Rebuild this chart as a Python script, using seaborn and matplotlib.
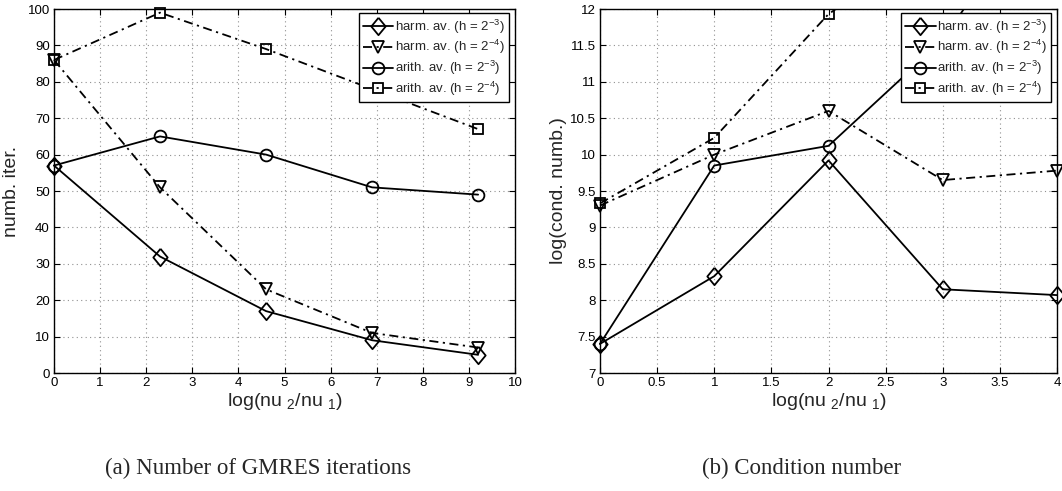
import numpy as np
import pandas as pd
import seaborn as sns
import matplotlib
matplotlib.use("Agg")
import matplotlib.pyplot as plt
from matplotlib.ticker import MultipleLocator, FuncFormatter
from matplotlib.transforms import Bbox, TransformedBbox

# Data
labels = ["harm. av. (h = 2$^{-3}$)", "harm. av. (h = 2$^{-4}$)",
          "arith. av. (h = 2$^{-3}$)", "arith. av. (h = 2$^{-4}$)"]

# (a) number of GMRES iterations
x_iter = [0, 2.3, 4.6, 6.9, 9.2]
iter_harm_h3 = [57, 32, 17, 9, 5]
iter_harm_h4 = [86, 51, 23, 11, 7]
iter_arith_h3 = [57, 65, 60, 51, 49]
iter_arith_h4 = [86, 99, 89, 78, 67]

# (b) condition number
x_cond = [0, 1, 2, 3, 4]
cond_harm_h3 = [7.4, 8.33, 9.92, 8.15, 8.07]
cond_harm_h4 = [9.3, 10.0, 10.6, 9.65, 9.78]
cond_arith_h3 = [7.4, 9.85, 10.12, 11.57, 13.9]
cond_arith_h4 = [9.33, 10.23, 11.93, 13.0, 13.8]

# matlab-like diamond (a bit taller than wide)
diamond = [(0, 1.15), (0.95, 0), (0, -1.15), (-0.95, 0), (0, 1.15)]
markers = [diamond, "v", "o", "s"]
msizes = [12.5, 8.5, 8.5, 6.5]
dashdot = (0, (5, 2.5, 1.2, 2.5))
styles = ["-", dashdot, "-", dashdot]

sns.set_style("ticks")
plt.rcParams['font.family'] = ['Liberation Sans', 'DejaVu Sans']
plt.rcParams['mathtext.default'] = 'regular'

W, H = 1062, 491
fig = plt.figure(figsize=(W / 100, H / 100), dpi=100)


def px_axes(l, t, r, b):
    return fig.add_axes([l / W, 1 - b / H, (r - l) / W, (b - t) / H])


def draw_panel(ax, x, series, top_clip):
    for y, lab, m, ms, ls in zip(series, labels, markers, msizes, styles):
        df = pd.DataFrame({"x": x, "y": y})
        sns.lineplot(data=df, x="x", y="y", ax=ax, color="k", marker=m,
                     markersize=ms, markerfacecolor="none", markeredgecolor="k",
                     markeredgewidth=1.3, linewidth=1.3, linestyle=ls, label=lab)
    box = TransformedBbox(Bbox([[-0.04, -0.04], [1.04, top_clip]]), ax.transAxes)
    for line in ax.get_lines():
        line.set_clip_box(box)
    ax.grid(True, linestyle=(0, (1, 3)), color="#909090", linewidth=0.8)
    ax.tick_params(direction="in", top=True, right=True, length=4, width=0.8,
                   labelsize=9.5, pad=3, colors="k")
    for s in ax.spines.values():
        s.set_color("k")
        s.set_linewidth(1.0)
    ax.set_xlabel("log(nu $_2$/nu $_1$)", fontsize=14, labelpad=1)
    leg = ax.legend(loc="upper right", bbox_to_anchor=(0.986, 0.988),
                    borderaxespad=0, fontsize=9.5, frameon=True, fancybox=False,
                    framealpha=1, edgecolor="k", handlelength=2.3,
                    handletextpad=0.1, labelspacing=0.2, borderpad=0.3)
    leg.get_frame().set_linewidth(1.0)


fmt = FuncFormatter(lambda v, p: "%g" % v)

ax1 = px_axes(54, 9, 515, 373)
draw_panel(ax1, x_iter, [iter_harm_h3, iter_harm_h4, iter_arith_h3, iter_arith_h4], 1.012)
ax1.set_xlim(0, 10)
ax1.set_ylim(0, 100)
ax1.xaxis.set_major_locator(MultipleLocator(1))
ax1.yaxis.set_major_locator(MultipleLocator(10))
ax1.set_ylabel("numb. iter.", fontsize=14)
ax1.yaxis.set_label_coords(-0.073, 0.5)

ax2 = px_axes(600, 9, 1057, 373)
draw_panel(ax2, x_cond, [cond_harm_h3, cond_harm_h4, cond_arith_h3, cond_arith_h4], 1.0)
ax2.set_xlim(0, 4)
ax2.set_ylim(7, 12)
ax2.xaxis.set_major_locator(MultipleLocator(0.5))
ax2.yaxis.set_major_locator(MultipleLocator(0.5))
ax2.xaxis.set_major_formatter(fmt)
ax2.yaxis.set_major_formatter(fmt)
ax2.set_ylabel("log(cond. numb.)", fontsize=14)
ax2.yaxis.set_label_coords(-0.073, 0.5)

# sub-captions
fig.text(258 / W, 1 - 468 / H, "(a) Number of GMRES iterations", ha="center",
         va="center", fontsize=16.5, family=["Liberation Serif", "DejaVu Serif"])
fig.text(802 / W, 1 - 468 / H, "(b) Condition number", ha="center",
         va="center", fontsize=16.5, family=["Liberation Serif", "DejaVu Serif"])

fig.savefig("out.png", dpi=100)
